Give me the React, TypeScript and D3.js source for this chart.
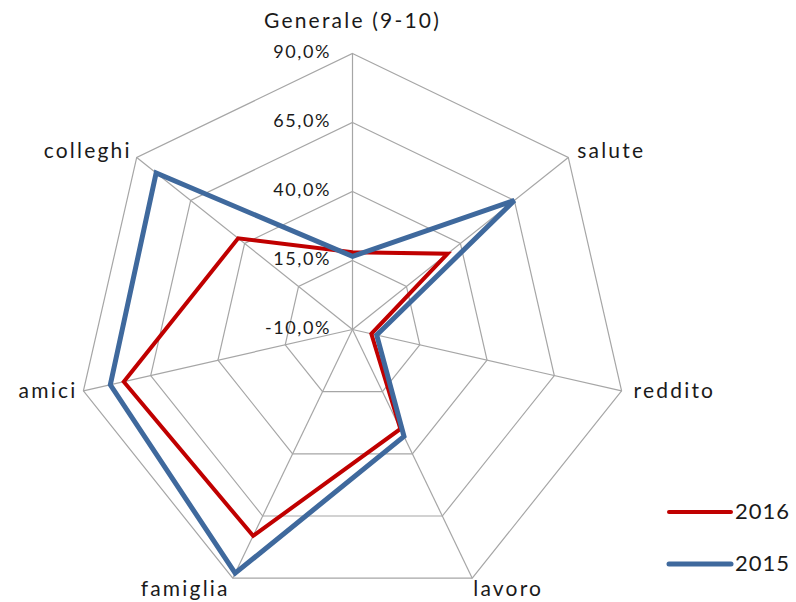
import React from "react";
import * as d3 from "d3";

const categories = ["Generale (9-10)", "salute", "reddito", "lavoro", "famiglia", "amici", "colleghi"];
const values2016 = [18, 34, -3, 30, 73, 75, 43];
const values2015 = [16.5, 65, -1, 33, 88, 80, 81];
const tickValues = [-10, 15, 40, 65, 90];
const seriesNames = ["2016", "2015"];

const W = 796;
const H = 602;
const cx = 352.5;
const cy = 329.5;
const R = 276;
const FONT = "Lato, 'Open Sans', sans-serif";

// label offsets (dx, dy, anchor) relative to outer vertex
const labelOffsets: [number, number, string][] = [
  [0, -31, "middle"],
  [9, -5, "start"],
  [12, 2, "start"],
  [1, 13, "start"],
  [-3, 13, "end"],
  [-6, 2, "end"],
  [-5, -5, "end"],
];

export default function App() {
  const n = categories.length;
  const r = d3.scaleLinear().domain([-10, 90]).range([0, R]);
  const angle = d3.scaleLinear().domain([0, n]).range([0, 2 * Math.PI]);
  const pt = (i: number, v: number): [number, number] => {
    const a = angle(i);
    return [cx + r(v) * Math.sin(a), cy - r(v) * Math.cos(a)];
  };
  const line = d3.line<[number, number]>().curve(d3.curveLinearClosed);

  const series = [
    { name: seriesNames[0], values: values2016, color: "#C00000", width: 4 },
    { name: seriesNames[1], values: values2015, color: "#3F699D", width: 5 },
  ];

  return (
    <div style={{ position: "absolute", left: 0, top: 0 }}>
      <svg width={W} height={H} style={{ display: "block", background: "#fff" }}>
        {/* rings */}
        {tickValues.slice(1).map((t) => (
          <path
            key={"ring" + t}
            d={line(d3.range(n).map((i) => pt(i, t))) || ""}
            fill="none"
            stroke="#A6A6A6"
            strokeWidth={1.2}
          />
        ))}
        {/* spokes */}
        {d3.range(n).map((i) => {
          const [x, y] = pt(i, 90);
          return <line key={"sp" + i} x1={cx} y1={cy} x2={x} y2={y} stroke="#A6A6A6" strokeWidth={1.2} />;
        })}
        {/* tick labels */}
        {tickValues.map((t) => (
          <text
            key={"t" + t}
            x={331}
            y={cy - r(t)}
            textAnchor="end"
            dominantBaseline="middle"
            fontFamily={FONT}
            fontSize={18}
            letterSpacing={1.6}
            fill="#1a1a1a"
          >
            {t.toFixed(1).replace(".", ",") + "%"}
          </text>
        ))}
        {/* series */}
        {series.map((s) => (
          <path
            key={s.name}
            d={line(s.values.map((v, i) => pt(i, v))) || ""}
            fill="none"
            stroke={s.color}
            strokeWidth={s.width}
            strokeLinejoin="miter"
          />
        ))}
        {/* category labels */}
        {categories.map((c, i) => {
          const [x, y] = pt(i, 90);
          const [dx, dy, anchor] = labelOffsets[i];
          return (
            <text
              key={c}
              x={x + dx}
              y={y + dy}
              textAnchor={anchor as any}
              dominantBaseline="middle"
              fontFamily={FONT}
              fontSize={21}
              letterSpacing={2.2}
              fill="#1a1a1a"
            >
              {c}
            </text>
          );
        })}
        {/* legend */}
        {series.map((s, k) => {
          const y = 512 + k * 52;
          return (
            <g key={"lg" + s.name}>
              <line x1={669} x2={731} y1={y} y2={y} stroke={s.color} strokeWidth={s.width} strokeLinecap="round" />
              <text
                x={735}
                y={y + 1}
                dominantBaseline="middle"
                fontFamily={FONT}
                fontSize={22}
                letterSpacing={1}
                fill="#1a1a1a"
              >
                {s.name}
              </text>
            </g>
          );
        })}
      </svg>
    </div>
  );
}
